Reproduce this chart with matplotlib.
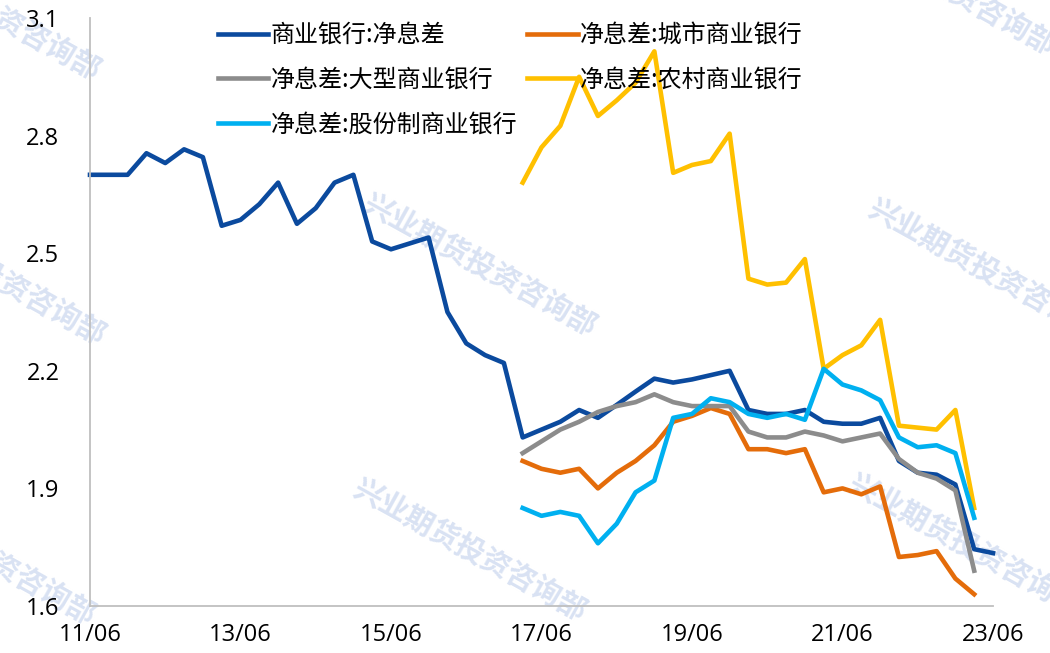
import matplotlib.pyplot as plt

plt.rcParams['font.family'] = ['Noto Sans CJK SC', 'DejaVu Sans']

# quarterly, 2011Q2 .. 2023Q2
quarters = [f"{y:02d}/{m:02d}" for y in range(11, 24) for m in (3, 6, 9, 12)][1:50]
tick_labels = ["11/06", "13/06", "15/06", "17/06", "19/06", "21/06", "23/06"]

nim_all = [2.70, 2.70, 2.70, 2.755, 2.73, 2.765, 2.745, 2.57, 2.585, 2.625,
           2.68, 2.575, 2.615, 2.68, 2.70, 2.53, 2.51, 2.525, 2.54, 2.35,
           2.27, 2.24, 2.22, 2.03, 2.05, 2.07, 2.10, 2.08, 2.113, 2.147,
           2.18, 2.17, 2.178, 2.189, 2.20, 2.10, 2.09, 2.09, 2.10, 2.07,
           2.065, 2.065, 2.08, 1.97, 1.94, 1.935, 1.91, 1.745, 1.735]

# bank types start 2017Q1 and end 2023Q1
sub_start = 23
nim_city = [1.97, 1.95, 1.94, 1.95, 1.90, 1.94, 1.97, 2.01, 2.07, 2.085,
            2.105, 2.09, 2.00, 2.00, 1.99, 2.00, 1.89, 1.90, 1.885, 1.905,
            1.725, 1.73, 1.74, 1.67, 1.63]
nim_big = [1.99, 2.02, 2.05, 2.07, 2.095, 2.11, 2.12, 2.14, 2.12, 2.11,
           2.11, 2.11, 2.045, 2.03, 2.03, 2.045, 2.035, 2.02, 2.03, 2.04,
           1.975, 1.94, 1.925, 1.895, 1.69]
nim_rural = [2.68, 2.77, 2.825, 2.95, 2.85, 2.89, 2.935, 3.015, 2.705, 2.725,
             2.735, 2.805, 2.435, 2.42, 2.425, 2.485, 2.205, 2.24, 2.265, 2.33,
             2.06, 2.055, 2.05, 2.10, 1.85]
nim_joint = [1.85, 1.83, 1.84, 1.83, 1.76, 1.81, 1.89, 1.92, 2.08, 2.09,
             2.13, 2.12, 2.09, 2.08, 2.09, 2.075, 2.205, 2.165, 2.15, 2.125,
             2.03, 2.005, 2.01, 1.99, 1.825]

fig = plt.figure(figsize=(10.5, 6.53), dpi=100)
ax = fig.add_axes([90 / 1050, 1 - 606 / 653, 903 / 1050, 588 / 653])
ax.patch.set_alpha(0)

# watermarks (cut by the figure edge, as in the original)
wm_centers = [(480, 265), (470, 550), (985, 270), (965, 545),
              (-16, 9), (939, -16), (-11, 274), (-21, 554)]
for cx, cy in wm_centers:
    ax.text(cx / 1050, 1 - cy / 653, "兴业期货投资咨询部", transform=fig.transFigure,
            fontsize=21, color='#d9e2f3', rotation=-29, ha='center', va='center',
            fontweight='bold', zorder=0.5, clip_on=False)

x_all = list(range(len(nim_all)))
x_sub = list(range(sub_start, sub_start + len(nim_big)))

lw = 3.3
l1, = ax.plot(x_all, nim_all, color='#0b4a9e', lw=lw, label='商业银行:净息差', clip_on=False)
l2, = ax.plot(x_sub, nim_city, color='#e46c0a', lw=lw, label='净息差:城市商业银行')
l3, = ax.plot(x_sub, nim_big, color='#8c8c8c', lw=lw, label='净息差:大型商业银行')
l4, = ax.plot(x_sub, nim_rural, color='#ffc000', lw=lw, label='净息差:农村商业银行')
l5, = ax.plot(x_sub, nim_joint, color='#00b0f0', lw=lw, label='净息差:股份制商业银行')

ax.set_xlim(0, 48)
ax.set_ylim(1.6, 3.1)
ax.set_yticks([1.6, 1.9, 2.2, 2.5, 2.8, 3.1])
ax.set_yticklabels(['1.6', '1.9', '2.2', '2.5', '2.8', '3.1'])
ax.set_xticks([quarters.index(t) for t in tick_labels])
ax.set_xticklabels(tick_labels)
ax.tick_params(axis='both', length=0)
ax.tick_params(axis='y', pad=22)
ax.tick_params(axis='x', pad=12)
for lab in ax.get_xticklabels() + ax.get_yticklabels():
    lab.set_family(['Open Sans', 'DejaVu Sans'])
    lab.set_fontsize(17)
for s in ('top', 'right'):
    ax.spines[s].set_visible(False)
for s in ('left', 'bottom'):
    ax.spines[s].set_color('#bfbfbf')
    ax.spines[s].set_linewidth(1.3)

ax.legend(handles=[l1, l3, l5, l2, l4], ncol=2, frameon=False,
          loc='upper left', bbox_to_anchor=(206 / 1050, 1 - 10 / 653),
          bbox_transform=fig.transFigure, fontsize=17.3, handlelength=2.1,
          handletextpad=0.1, columnspacing=0.4, labelspacing=0.78, borderpad=0)

fig.savefig('out.png', dpi=100)
